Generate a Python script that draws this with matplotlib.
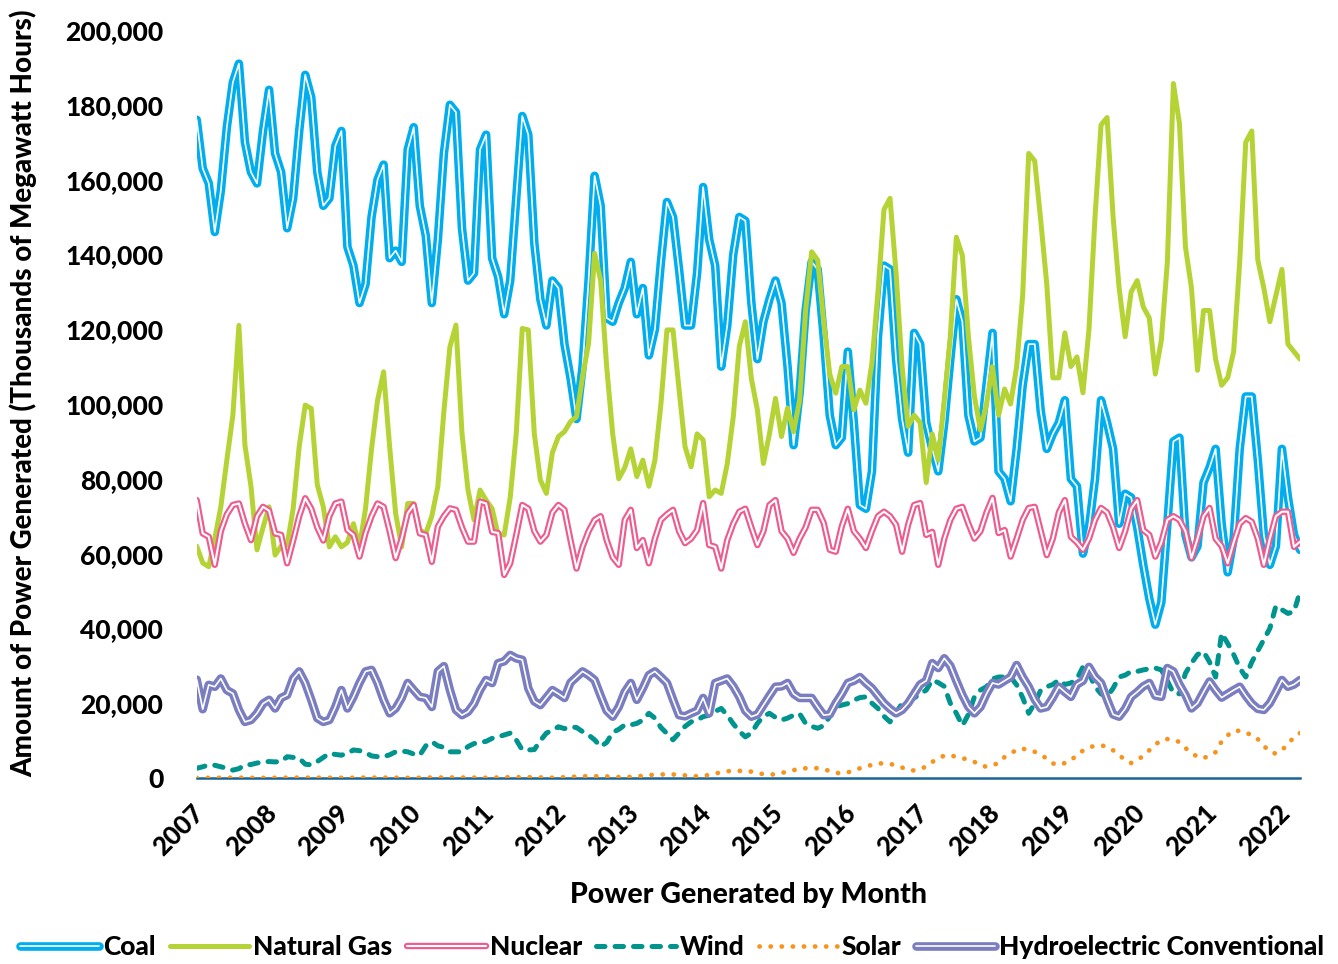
import matplotlib
matplotlib.use("Agg")
import matplotlib.pyplot as plt
import matplotlib.transforms as mtransforms
from matplotlib.ticker import FuncFormatter
import numpy as np

# ---------------- data (thousand MWh), monthly Jan 2007 - Apr 2022 ----------------
years = [str(y) for y in range(2007, 2023)]

coal = [
    176, 163, 159, 146, 157, 174, 186, 191, 170, 162, 159, 173,   # 2007
    184, 167, 162, 147, 155, 173, 188, 182, 162, 153, 155, 169,   # 2008
    173, 142, 137, 127, 132, 150, 160, 164, 139, 141, 138, 168,   # 2009
    174, 153, 145, 127, 144, 167, 180, 178, 147, 133, 135, 168,   # 2010
    172, 139, 134, 124, 133, 155, 177, 172, 143, 128, 121, 133,   # 2011
    131, 116, 107, 96, 110, 133, 161, 153, 123, 122, 127, 131,    # 2012
    138, 124, 131, 113, 120, 138, 154, 150, 136, 121, 121, 135,   # 2013
    158, 144, 137, 110, 121, 140, 150, 149, 127, 112, 122, 128,   # 2014
    133, 127, 110, 89, 103, 125, 138, 136, 118, 97, 89, 91,       # 2015
    114, 95, 73, 72, 82, 118, 137, 136, 112, 96, 87, 119,         # 2016
    116, 95, 88, 82, 95, 112, 128, 122, 97, 90, 91, 105,          # 2017
    119, 82, 80, 74, 88, 105, 116, 116, 98, 88, 92, 95,           # 2018
    101, 80, 78, 60, 67, 80, 101, 95, 88, 68, 76, 75,             # 2019
    67, 57, 48, 41, 47, 68, 90, 91, 65, 59, 62, 79,               # 2020
    83, 88, 68, 55, 64, 88, 102, 102, 85, 65, 57, 62,             # 2021
    88, 75, 65, 61,                                               # 2022
]

natural_gas = [
    62, 57.5, 56.5, 64, 72.5, 85, 97, 121, 89, 78, 61, 67,        # 2007
    72.5, 59.6, 62, 62.3, 72, 88.6, 99.7, 98.8, 78.4, 72.5, 61.8, 64.5,  # 2008
    61.8, 63, 68, 61.8, 72, 88, 101, 108.6, 88.6, 70.7, 61.8, 73.4,      # 2009
    73.4, 66.3, 65.4, 70, 78, 98, 115.3, 121.1, 92.2, 77, 69, 77,        # 2010
    74.3, 72, 65, 65, 75, 92, 120.2, 119.8, 92, 79.7, 76.1, 87,          # 2011
    91.3, 92.6, 95.3, 96.6, 107.3, 116.2, 140.3, 133, 110, 92, 80, 83,   # 2012
    88, 80.6, 85, 78, 85, 100, 119.8, 119.8, 104, 88.6, 83.2, 92,        # 2013
    90.4, 75.2, 77, 76.1, 84, 96.6, 115.4, 122, 106.8, 98.4, 84.1, 92,   # 2014
    101.5, 91.3, 98.9, 92.6, 101, 125, 140.7, 138.5, 122, 108, 102.9, 110,  # 2015
    110, 98.4, 103.7, 100.2, 111, 130, 152, 155, 135, 110, 94, 97,       # 2016
    95, 79, 92, 85, 101, 118, 144.6, 139.7, 118, 102, 93, 100,           # 2017
    110, 97, 104, 100, 110, 129, 167, 165, 149, 132, 107, 107,           # 2018
    119, 110, 112.6, 103, 120, 150, 174.6, 176.6, 150, 131, 118, 130,    # 2019
    133, 126, 123, 108, 117, 138, 185.7, 175, 142, 131, 109, 125,        # 2020
    125, 112, 105, 107, 114, 138, 170, 173, 138.5, 131, 122, 129,        # 2021
    136, 116, 114, 112,                                                  # 2022
]

nuclear = [
    74.3, 65.4, 64.5, 57.0, 66.0, 70.5, 73.0, 73.4, 68.0, 63.6, 70.0, 72.5,  # 2007
    71.5, 65.4, 65.0, 57.4, 63.5, 70.0, 74.8, 72.0, 67.0, 63.5, 70.0, 73.4,  # 2008
    73.9, 66.3, 65.0, 59.2, 65.5, 70.0, 73.4, 72.5, 66.0, 58.8, 64.0, 70.8,  # 2009
    73.0, 65.4, 65.0, 57.8, 67.2, 70.0, 72.1, 71.7, 67.0, 63.2, 63.2, 73.9,  # 2010
    73.4, 65.8, 65.5, 54.3, 57.4, 65.0, 73.0, 72.0, 66.0, 63.2, 65.0, 71.0,  # 2011
    73.0, 71.7, 63.6, 56.0, 61.8, 66.0, 69.0, 70.0, 63.6, 59.0, 57.0, 69.0,  # 2012
    71.7, 61.5, 63.6, 57.4, 64.0, 69.0, 70.5, 71.7, 66.0, 62.8, 64.0, 66.3,  # 2013
    73.5, 62.3, 61.8, 56.0, 63.6, 68.0, 71.2, 72.0, 67.0, 62.3, 66.0, 73.0,  # 2014
    74.3, 66.0, 64.0, 60.2, 64.0, 67.0, 71.7, 71.7, 68.2, 61.0, 60.5, 67.3,  # 2015
    72.0, 66.0, 64.0, 61.5, 66.0, 70.0, 71.2, 70.0, 67.7, 60.5, 67.7, 73.0,  # 2016
    73.5, 65.0, 65.8, 57.0, 64.0, 69.0, 72.0, 72.5, 68.0, 64.0, 66.0, 71.0,  # 2017
    74.9, 65.5, 66.3, 59.2, 64.0, 69.0, 72.2, 72.5, 66.0, 59.6, 64.0, 71.0,  # 2018
    74.3, 64.5, 63.0, 61.0, 64.0, 69.0, 72.2, 71.0, 67.0, 61.5, 66.0, 72.0,  # 2019
    74.3, 66.3, 65.0, 59.2, 63.0, 69.0, 70.0, 69.0, 66.0, 58.8, 64.0, 70.0,  # 2020
    72.2, 64.0, 62.0, 57.4, 63.0, 68.0, 69.5, 68.5, 64.0, 57.0, 64.0, 70.0,  # 2021
    71.2, 71.2, 61.8, 63.2,                                                  # 2022
]

wind = [
    2.6, 3.0, 3.5, 3.4, 3.0, 2.6, 2.1, 2.5, 3.5, 3.6, 4.0, 4.3,          # 2007
    4.4, 4.3, 4.4, 5.7, 5.5, 5.3, 3.7, 3.5, 4.4, 5.5, 6.6, 6.3,          # 2008
    6.1, 6.6, 7.5, 7.3, 6.8, 5.9, 5.7, 5.7, 6.2, 7.0, 7.2, 7.0,          # 2009
    6.4, 6.1, 8.6, 9.7, 8.6, 8.2, 7.0, 7.0, 7.0, 8.4, 9.2, 9.5,          # 2010
    9.8, 10.6, 11.0, 11.5, 12.0, 10.2, 7.5, 7.5, 7.6, 10.0, 12.0, 12.8,  # 2011
    13.7, 13.2, 13.7, 13.5, 12.4, 11.5, 10.2, 8.4, 9.5, 12.2, 13.0, 14.2,   # 2012
    14.2, 14.6, 15.5, 17.3, 16.0, 13.5, 11.9, 10.2, 12.0, 13.8, 15.0, 15.5,  # 2013
    16.4, 16.8, 17.8, 18.6, 16.8, 14.5, 12.5, 11.0, 12.0, 14.6, 16.5, 17.3,  # 2014
    16.2, 15.5, 16.0, 16.8, 17.2, 14.6, 13.8, 13.3, 14.0, 16.5, 19.0, 19.5,  # 2015
    19.9, 20.8, 21.5, 21.7, 20.0, 18.6, 16.5, 15.0, 17.5, 19.9, 20.8, 21.4,  # 2016
    22.5, 23.5, 26.2, 25.5, 24.5, 20.0, 17.3, 14.0, 17.0, 21.7, 23.5, 24.4,  # 2017
    26.5, 27.0, 27.0, 27.0, 24.9, 21.5, 17.3, 20.0, 23.5, 24.4, 25.0, 26.2,  # 2018
    25.0, 25.4, 26.5, 29.7, 28.0, 24.4, 22.5, 21.7, 24.0, 27.0, 27.5, 28.5,  # 2019
    28.5, 28.9, 29.2, 29.4, 28.9, 26.0, 22.7, 22.5, 28.0, 30.7, 33.0, 33.8,  # 2020
    31.0, 27.0, 38.7, 36.0, 33.0, 29.4, 27.0, 31.0, 34.0, 37.0, 40.0, 46.0,  # 2021
    45.0, 44.0, 44.5, 49.7,                                                  # 2022
]

solar = [
    0.03, 0.04, 0.05, 0.06, 0.08, 0.08, 0.08, 0.08, 0.06, 0.05, 0.03, 0.03,  # 2007
    0.03, 0.05, 0.07, 0.08, 0.10, 0.10, 0.10, 0.10, 0.08, 0.07, 0.04, 0.03,  # 2008
    0.04, 0.05, 0.08, 0.10, 0.10, 0.10, 0.11, 0.10, 0.09, 0.07, 0.05, 0.04,  # 2009
    0.05, 0.06, 0.10, 0.12, 0.13, 0.15, 0.14, 0.14, 0.12, 0.09, 0.07, 0.05,  # 2010
    0.06, 0.10, 0.14, 0.17, 0.20, 0.22, 0.21, 0.21, 0.18, 0.14, 0.10, 0.08,  # 2011
    0.12, 0.20, 0.30, 0.35, 0.45, 0.47, 0.45, 0.47, 0.42, 0.32, 0.24, 0.20,  # 2012
    0.30, 0.40, 0.60, 0.75, 0.90, 0.95, 0.95, 0.95, 0.85, 0.70, 0.50, 0.45,  # 2013
    0.60, 0.80, 1.20, 1.50, 1.80, 1.90, 1.90, 1.90, 1.70, 1.40, 1.00, 0.90,  # 2014
    1.0, 1.3, 1.8, 2.1, 2.5, 2.6, 2.7, 2.6, 2.3, 1.9, 1.4, 1.2,             # 2015
    1.5, 2.0, 2.6, 3.1, 3.5, 3.9, 3.9, 3.8, 3.3, 2.8, 2.2, 2.0,             # 2016
    2.5, 3.0, 4.3, 5.2, 6.0, 6.1, 5.6, 5.3, 4.9, 4.3, 3.4, 3.0,             # 2017
    3.4, 4.0, 5.6, 6.6, 7.5, 7.9, 7.3, 7.0, 6.2, 5.2, 3.9, 3.5,             # 2018
    4.0, 4.6, 6.3, 7.3, 8.2, 8.6, 8.7, 8.4, 7.4, 6.2, 4.7, 4.0,             # 2019
    4.8, 5.9, 7.4, 8.9, 10.2, 10.4, 10.3, 9.6, 8.0, 6.8, 5.6, 5.3,          # 2020
    6.0, 6.9, 9.8, 11.4, 12.7, 12.6, 12.0, 11.6, 10.4, 8.6, 7.0, 6.5,       # 2021
    7.5, 9.0, 11.0, 12.0,                                                   # 2022
]

hydro = [
    26.3, 18.4, 24.9, 24.4, 26.6, 23.5, 22.6, 18.2, 15.0, 15.5, 17.3, 19.9,  # 2007
    20.9, 18.6, 21.4, 22.2, 26.6, 28.5, 25.4, 20.9, 16.0, 15.0, 15.5, 19.0,  # 2008
    23.5, 18.6, 21.7, 25.4, 28.5, 28.9, 25.4, 20.9, 17.3, 18.6, 21.4, 25.4,  # 2009
    23.5, 21.7, 21.4, 19.0, 28.5, 29.9, 23.5, 18.2, 16.8, 17.7, 19.9, 23.5,  # 2010
    26.2, 25.4, 30.7, 31.2, 32.9, 32.0, 31.6, 24.0, 20.5, 19.5, 21.5, 23.5,  # 2011
    22.5, 21.4, 25.5, 27.0, 28.5, 27.5, 26.2, 22.0, 18.0, 16.4, 19.0, 23.0,  # 2012
    25.4, 20.9, 24.0, 27.5, 28.5, 27.0, 25.4, 21.0, 16.8, 16.5, 17.3, 18.0,  # 2013
    21.4, 17.3, 25.4, 26.0, 26.6, 24.5, 21.7, 18.0, 16.4, 17.0, 19.5, 22.0,  # 2014
    24.4, 24.5, 25.4, 22.5, 21.4, 21.4, 21.4, 19.0, 16.8, 17.0, 20.0, 22.5,  # 2015
    25.4, 26.0, 27.0, 25.4, 24.0, 22.0, 20.0, 18.5, 17.3, 18.2, 20.0, 22.5,  # 2016
    25.0, 26.0, 30.7, 29.4, 32.0, 30.0, 26.0, 22.2, 19.0, 17.3, 19.0, 22.5,  # 2017
    25.4, 25.0, 26.0, 27.0, 30.2, 27.0, 24.4, 21.0, 18.6, 19.0, 21.5, 24.4,  # 2018
    23.0, 21.7, 25.0, 26.0, 29.7, 27.0, 25.4, 21.0, 17.0, 16.4, 18.5, 21.7,  # 2019
    23.0, 24.5, 25.4, 22.0, 21.7, 29.4, 28.5, 25.0, 22.2, 18.6, 20.0, 23.0,  # 2020
    25.8, 23.5, 21.5, 22.5, 23.5, 24.4, 22.0, 19.9, 18.5, 18.2, 20.0, 23.0,  # 2021
    26.2, 24.4, 25.0, 26.2,                                                  # 2022
]

series_names = ["Coal", "Natural Gas", "Nuclear", "Wind", "Solar", "Hydroelectric Conventional"]

# ---------------- styling ----------------
C_COAL = "#00AEEF"
C_GAS = "#B5D334"
C_NUC = "#EF5B8C"
C_WIND = "#00948F"
C_SOLAR = "#F7941D"
C_HYDRO = "#7A7DC0"
C_AXIS = "#1B6496"
FONT = ["Lato", "DejaVu Sans"]
W = "black"

plt.rcParams["font.family"] = FONT
plt.rcParams["font.weight"] = W

fig = plt.figure(figsize=(13.38, 9.64), dpi=100)
ax = fig.add_axes([196.7 / 1338, 186 / 964, (1300 - 196.7) / 1338, 748 / 964])

n = len(coal)
x = np.arange(n)
k = 1000.0

def double_line(y, color, lw_out, lw_in, z):
    o, = ax.plot(x, np.array(y) * k, color=color, lw=lw_out, solid_joinstyle="round",
                 solid_capstyle="round", zorder=z)
    i, = ax.plot(x, np.array(y) * k, color="white", lw=lw_in, solid_joinstyle="round",
                 solid_capstyle="round", zorder=z + 0.1)
    return (o, i)

h_coal = double_line(coal, C_COAL, 6.2, 1.2, 2)
h_gas, = ax.plot(x, np.array(natural_gas) * k, color=C_GAS, lw=3.6, solid_joinstyle="round",
                 solid_capstyle="round", zorder=3)
h_nuc = double_line(nuclear, C_NUC, 4.6, 1.5, 4)
h_wind, = ax.plot(x, np.array(wind) * k, color=C_WIND, lw=3.6, linestyle=(0, (1.7, 2.0)),
                  dash_capstyle="round", zorder=5)
h_solar, = ax.plot(x, np.array(solar) * k, color=C_SOLAR, lw=3.4, linestyle=(0, (0.05, 2.3)),
                   dash_capstyle="round", zorder=6)
h_hydro = double_line(hydro, C_HYDRO, 6.2, 1.2, 7)

ax.set_xlim(0, n - 1)
ax.set_ylim(0, 200000)
ax.set_yticks(np.arange(0, 200001, 20000))
ax.yaxis.set_major_formatter(FuncFormatter(lambda v, p: f"{int(v):,}"))
ax.tick_params(axis="y", length=0, pad=24, labelsize=19)
for lab in ax.get_yticklabels():
    lab.set_fontweight(W)

ax.set_xticks(np.arange(0, n, 12))
ax.set_xticklabels(years, rotation=45, ha="right", va="top", rotation_mode="anchor",
                   fontsize=18.5, fontweight=W)
ax.tick_params(axis="x", length=0, pad=16)
offset = mtransforms.ScaledTranslation(-5 / 100, 0, fig.dpi_scale_trans)
for lab in ax.get_xticklabels():
    lab.set_transform(lab.get_transform() + offset)

for s in ["top", "right", "left"]:
    ax.spines[s].set_visible(False)
ax.spines["bottom"].set_color(C_AXIS)
ax.spines["bottom"].set_linewidth(1.8)
ax.spines["bottom"].set_zorder(1)

fig.text(23 / 1338, (964 - 393) / 964, "Amount of Power Generated (Thousands of Megawatt Hours)",
         rotation=90, ha="center", va="center", fontsize=20, fontweight=W)
fig.text(748 / 1338, (964 - 895) / 964, "Power Generated by Month",
         ha="center", va="center", fontsize=20.5, fontweight=W)

leg = fig.legend([h_coal, h_gas, h_nuc, h_wind, h_solar, h_hydro], series_names,
                 loc="center", bbox_to_anchor=(672 / 1338, (964 - 947) / 964), ncol=6,
                 frameon=False, handlelength=3.0, handletextpad=0.15, columnspacing=0.55,
                 borderpad=0.2, prop={"family": FONT, "weight": W, "size": 19})

fig.savefig("out.png", dpi=100)
